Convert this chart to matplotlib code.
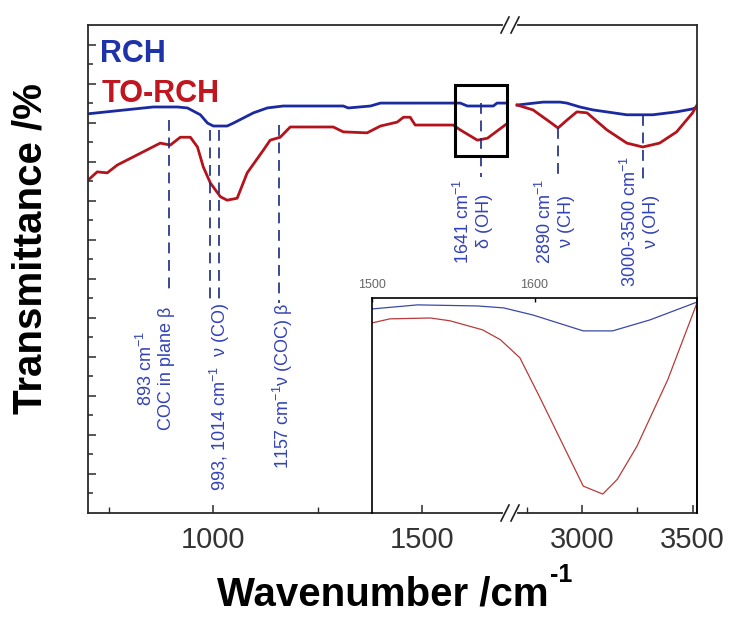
import numpy as np
import matplotlib.pyplot as plt
from matplotlib.patches import Rectangle
from matplotlib.lines import Line2D

plt.rcParams['font.family'] = ['Liberation Sans', 'DejaVu Sans']
plt.rcParams['mathtext.fontset'] = 'custom'
plt.rcParams['mathtext.rm'] = 'Liberation Sans'
plt.rcParams['mathtext.bf'] = 'Liberation Sans:bold'

# fingerprint region (700-1710 cm-1)
wn_rch_lo = [700, 722, 856, 914, 938, 969, 986, 1000, 1033, 1048, 1096, 1129, 1167,
             1311, 1323, 1376, 1400, 1591, 1608, 1670, 1679, 1703]
t_rch_lo = [81.8, 82.0, 83.2, 83.2, 83.0, 81.6, 79.9, 79.3, 79.3, 79.9, 82.0, 83.0, 83.4,
            83.4, 83.0, 83.4, 84.0, 84.0, 83.4, 83.4, 84.0, 84.0]
wn_torch_lo = [700, 722, 746, 770, 809, 873, 897, 921, 945, 962, 976, 993, 1017, 1033, 1057,
               1081, 1120, 1136, 1160, 1184, 1287, 1311, 1368, 1400, 1440, 1455, 1471, 1483,
               1574, 1591, 1632, 1656, 1703]
t_torch_lo = [68.2, 69.9, 69.7, 71.3, 73.0, 75.8, 75.4, 77.0, 77.0, 75.0, 70.9, 67.6, 64.8,
              64.1, 64.5, 69.7, 74.4, 76.4, 77.0, 79.1, 79.1, 78.1, 77.9, 79.3, 80.1, 81.1,
              81.1, 79.5, 79.5, 78.5, 76.4, 76.8, 79.8]

# high wavenumber region (2675-3520 cm-1)
wn_rch_hi = [2707, 2824, 2901, 2932, 2991, 3050, 3203, 3320, 3428, 3500, 3520]
t_rch_hi = [83.6, 84.2, 84.2, 84.0, 83.2, 82.6, 81.6, 81.6, 82.2, 82.8, 83.2]
wn_torch_hi = [2707, 2779, 2856, 2892, 2932, 2977, 3023, 3113, 3203, 3275, 3351, 3428, 3500, 3520]
t_torch_hi = [83.6, 82.6, 80.1, 78.9, 80.5, 82.2, 82.0, 78.5, 75.8, 75.0, 75.8, 78.1, 82.0, 83.6]

# zoom on the 1641 cm-1 band
wn_rch_in = [1500, 1528, 1565, 1581, 1599, 1630, 1648, 1671, 1700]
t_rch_in = [94.9, 96.8, 96.3, 95.4, 92.1, 84.7, 84.7, 89.8, 98.1]
wn_torch_in = [1500, 1511, 1536, 1548, 1568, 1579, 1591, 1603, 1618, 1630, 1642, 1651,
               1663, 1682, 1700]
t_torch_in = [88.4, 90.3, 90.7, 89.4, 85.2, 80.6, 72.2, 54.2, 31.0, 12.5, 8.8, 15.7,
              31.0, 62.0, 97.7]

blue = '#1c2aa0'
red = '#b3141c'
note_blue = '#3342b8'
dash_col = '#1a2a80'
frame = '#2a2a2a'

W, H = 731, 618
def fx(px):
    return px / W
def fy(py):
    return 1 - py / H

fig = plt.figure(figsize=(W / 100, H / 100), dpi=100)
x0, xb, x1 = 88, 510, 697
ytop, ybot = 25, 513
ax1 = fig.add_axes([fx(x0), fy(ybot), (xb - x0) / W, (ybot - ytop) / H])
ax2 = fig.add_axes([fx(xb), fy(ybot), (x1 - xb) / W, (ybot - ytop) / H])

ax1.plot(wn_rch_lo, t_rch_lo, color=blue, lw=2.0)
ax1.plot(wn_torch_lo, t_torch_lo, color=red, lw=2.0)
ax2.plot(wn_rch_hi, t_rch_hi, color=blue, lw=2.0)
ax2.plot(wn_torch_hi, t_torch_hi, color=red, lw=2.0)

ax1.set_xlim(700, 1710)
ax2.set_xlim(2675, 3520)
for ax in (ax1, ax2):
    ax.set_ylim(0, 100)
    for s in ax.spines.values():
        s.set_color(frame)
        s.set_linewidth(1.3)
    ax.tick_params(axis='x', direction='in', labelsize=21, labelcolor='#333333',
                   pad=9, length=6, width=1.1, color=frame)
    ax.tick_params(axis='x', which='minor', direction='in', length=4, width=1.0, color=frame)
ax1.spines['right'].set_visible(False)
ax2.spines['left'].set_visible(False)

ax1.set_xticks([1000, 1500])
ax1.set_xticks([750, 1250], minor=True)
ax2.set_xticks([3000, 3500])
ax2.set_xticks([2750, 3250], minor=True)

ax1.set_yticks(np.arange(8, 97, 8))
ax1.set_yticks(np.arange(4, 97, 8), minor=True)
ax1.set_yticklabels([])
ax1.tick_params(axis='y', which='major', direction='in', length=6, width=1.1, color=frame)
ax1.tick_params(axis='y', which='minor', direction='in', length=3.5, width=1.1, color=frame)
ax2.set_yticks([])

# dashed guide lines for the assigned bands
guides_lo = [(893, 80.5, 45.3), (993, 78.5, 43.6), (1014, 78.5, 43.6),
             (1157, 79.5, 43.0), (1641, 84.0, 68.9)]
guides_hi = [(2890, 78.9, 68.2), (3275, 81.6, 68.2)]
for ax, guides in ((ax1, guides_lo), (ax2, guides_hi)):
    for x, ya, yb in guides:
        ax.plot([x, x], [ya, yb], color=dash_col, lw=1.2, dashes=(6.5, 4))

tk = dict(rotation=90, color=note_blue, fontsize=13, multialignment='center', clip_on=False)
ax1.text(861, 42.2, '893 cm$^{-1}$\nCOC in plane β', ha='center', va='top', **tk)
ax1.text(1017, 43.0, '993, 1014 cm$^{-1}$  ν (CO)', ha='center', va='top', **tk)
ax1.text(1167, 43.0, '1157 cm$^{-1}$ν (COC) β', ha='center', va='top', **tk)
ax1.text(1622, 59.8, '1641 cm$^{-1}$\nδ (OH)', ha='center', va='center', **tk)
ax2.text(2878, 59.8, '2890 cm$^{-1}$\nν (CH)', ha='center', va='center', **tk)
ax2.text(3261, 59.8, '3000-3500 cm$^{-1}$\nν (OH)', ha='center', va='center', **tk)

# box marking the zoomed band
ax1.add_patch(Rectangle((1579, 73.2), 124, 14.5, fill=False, ec='black', lw=2.2, zorder=5))

# legend labels
fig.text(fx(100), fy(62), 'RCH', color='#1f33a8', fontsize=22, fontweight='bold',
         ha='left', va='baseline')
fig.text(fx(102), fy(102), 'TO-RCH', color='#c0161f', fontsize=22, fontweight='bold',
         ha='left', va='baseline')

fig.text(fx(31), fy(248), 'Transmittance /%', rotation=90, fontsize=29,
         fontweight='bold', ha='center', va='center')

# x label with a small "-1" superscript after it
xl = fig.text(fx(383), fy(605), 'Wavenumber /cm', fontsize=29,
              fontweight='bold', ha='center', va='baseline')
renderer = fig.canvas.get_renderer()
bb = xl.get_window_extent(renderer)
fig.text(bb.x1 / W + fx(1), fy(582), '-1', fontsize=18, fontweight='bold',
         ha='left', va='baseline')

# axis break marks
for yb in (ytop, ybot):
    fig.add_artist(Line2D([fx(505), fx(515)], [fy(yb), fy(yb)], color='white', lw=3))
    for xs in (505, 515):
        fig.add_artist(Line2D([fx(xs - 4), fx(xs + 4)], [fy(yb + 8), fy(yb - 8)],
                              color='#222222', lw=1.2))

# inset
axi = fig.add_axes([fx(372), fy(513), (697 - 372) / W, (513 - 298) / H], facecolor='none')
axi.plot(wn_rch_in, t_rch_in, color='#3a48a8', lw=0.9)
axi.plot(wn_torch_in, t_torch_in, color='#b83a3a', lw=0.9)
axi.set_xlim(1500, 1700)
axi.set_ylim(0, 100)
axi.spines['bottom'].set_visible(False)
for s in ('left', 'top', 'right'):
    axi.spines[s].set_color('black')
    axi.spines[s].set_linewidth(1.2)
axi.set_yticks([])
axi.xaxis.tick_top()
axi.set_xticks([1500, 1600])
axi.tick_params(axis='x', direction='in', length=3, width=1.0, labelsize=9,
                labelcolor='#666666', pad=5)

fig.savefig('out.png', dpi=100)
